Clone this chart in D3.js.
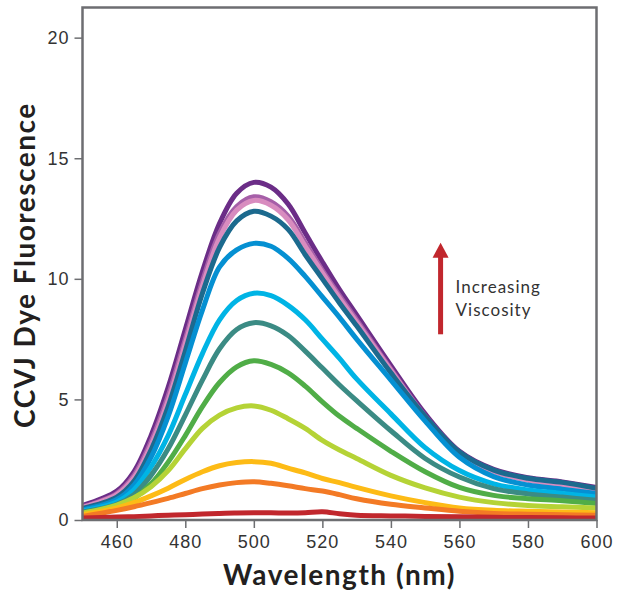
<!DOCTYPE html>
<html>
<head>
<meta charset="utf-8">
<script src="https://cdn.jsdelivr.net/npm/d3@7"></script>
<style>
  body { margin: 0; background: #fff; }
  svg { display: block; font-family: Lato, "Noto Sans", sans-serif; }
</style>
</head>
<body>
<svg width="617" height="595"></svg>
<script>
// wavelengths (nm), shared by every series
const wavelengths = [450, 460, 465, 470, 475, 480, 485, 490, 495, 500, 505, 510, 515, 520, 525, 530, 540, 550, 560, 570, 580, 590, 600];

// fluorescence per viscosity step, highest first
const purple = [0.6, 1.2, 2.0, 3.5, 5.5, 7.9, 10.3, 12.3, 13.55, 14.0, 13.8, 13.1, 11.9, 10.7, 9.55, 8.5, 6.4, 4.4, 2.85, 2.1, 1.75, 1.58, 1.35];
const mauve = [0.55, 1.1, 1.85, 3.25, 5.15, 7.5, 9.9, 11.9, 13.0, 13.4, 13.2, 12.6, 11.5, 10.35, 9.3, 8.3, 6.25, 4.3, 2.8, 2.05, 1.7, 1.52, 1.28];
const pink = [0.52, 1.05, 1.75, 3.1, 4.95, 7.3, 9.7, 11.7, 12.85, 13.25, 13.05, 12.45, 11.35, 10.25, 9.2, 8.2, 6.2, 4.25, 2.75, 2.0, 1.65, 1.45, 1.24];
const darkBlue = [0.48, 0.95, 1.6, 2.9, 4.7, 7.0, 9.4, 11.3, 12.4, 12.8, 12.6, 12.05, 11.0, 10.0, 9.0, 8.05, 6.1, 4.3, 2.82, 2.07, 1.73, 1.56, 1.31];
const blue = [0.42, 0.85, 1.45, 2.6, 4.3, 6.5, 8.7, 10.5, 11.2, 11.47, 11.35, 10.85, 10.1, 9.25, 8.4, 7.5, 5.8, 4.1, 2.6, 1.8, 1.45, 1.28, 1.1];
const cyan = [0.38, 0.75, 1.25, 2.2, 3.5, 5.2, 6.9, 8.3, 9.1, 9.4, 9.3, 8.9, 8.3, 7.5, 6.7, 5.85, 4.4, 3.0, 2.05, 1.5, 1.25, 1.1, 0.95];
const teal = [0.33, 0.65, 1.05, 1.85, 2.95, 4.35, 5.8, 7.1, 7.9, 8.18, 8.05, 7.65, 7.0, 6.3, 5.6, 4.95, 3.7, 2.55, 1.78, 1.3, 1.08, 0.95, 0.82];
const green = [0.3, 0.55, 0.9, 1.5, 2.4, 3.5, 4.7, 5.7, 6.35, 6.6, 6.45, 6.1, 5.55, 4.9, 4.3, 3.8, 2.85, 2.0, 1.35, 1.02, 0.88, 0.8, 0.68];
const yellowGreen = [0.28, 0.62, 0.92, 1.38, 2.05, 2.95, 3.8, 4.35, 4.65, 4.73, 4.55, 4.2, 3.8, 3.3, 2.9, 2.55, 1.85, 1.33, 0.95, 0.72, 0.6, 0.55, 0.5];
const amber = [0.22, 0.5, 0.72, 1.0, 1.32, 1.68, 2.0, 2.25, 2.38, 2.42, 2.35, 2.15, 1.95, 1.72, 1.55, 1.35, 1.0, 0.72, 0.5, 0.4, 0.36, 0.33, 0.3];
const orange = [0.15, 0.4, 0.55, 0.72, 0.9, 1.1, 1.3, 1.45, 1.55, 1.59, 1.52, 1.42, 1.3, 1.2, 1.05, 0.88, 0.65, 0.5, 0.36, 0.27, 0.24, 0.22, 0.2];
const red = [0.08, 0.12, 0.14, 0.17, 0.2, 0.22, 0.25, 0.27, 0.29, 0.3, 0.3, 0.29, 0.3, 0.34, 0.26, 0.2, 0.17, 0.15, 0.13, 0.11, 0.1, 0.09, 0.08];

const seriesColors = ["#6b2d87", "#a65fa8", "#d88cbf", "#1c6a8e", "#0590d2", "#00b4e5", "#3b8b84", "#50ad47", "#b5d336", "#fdbb16", "#f37a25", "#c1272d"];
const seriesValues = [purple, mauve, pink, darkBlue, blue, cyan, teal, green, yellowGreen, amber, orange, red];

const xTicks = [460, 480, 500, 520, 540, 560, 580, 600];
const yTicks = [0, 5, 10, 15, 20];

const svg = d3.select("svg");
const width = +svg.attr("width");
const height = +svg.attr("height");

const margin = { top: 7.5, right: 20.5, bottom: 75, left: 82.5 };
const innerWidth = width - margin.left - margin.right;
const innerHeight = height - margin.top - margin.bottom;

const xScale = d3.scaleLinear().domain([450, 600]).range([0, innerWidth]);
const yScale = d3.scaleLinear().domain([0, 21.25]).range([innerHeight, 0]);

const g = svg.append("g")
  .attr("transform", `translate(${margin.left},${margin.top})`);

g.append("clipPath").attr("id", "plot-clip")
  .append("rect").attr("width", innerWidth).attr("height", innerHeight);

// curves
const line = d3.line()
  .x((d) => xScale(d[0]))
  .y((d) => yScale(d[1]))
  .curve(d3.curveCatmullRom.alpha(0.5));

g.append("g")
  .attr("clip-path", "url(#plot-clip)")
  .selectAll("path")
  .data(seriesValues)
  .enter()
  .append("path")
  .attr("d", (vals) => line(wavelengths.map((w, i) => [w, vals[i]])))
  .attr("fill", "none")
  .attr("stroke", (d, i) => seriesColors[i])
  .attr("stroke-width", 5)
  .attr("stroke-linejoin", "round")
  .attr("stroke-linecap", "round");

// axes
const axisColor = "#6d6e71";
const styleAxis = (sel) => {
  sel.select(".domain").remove();
  sel.selectAll(".tick line").attr("stroke", axisColor).attr("stroke-width", 1.5);
  sel.selectAll(".tick text")
    .attr("fill", "#333")
    .style("font-size", "18px")
    .style("letter-spacing", "1px");
};

g.append("g")
  .call(d3.axisLeft(yScale).tickValues(yTicks).tickSize(8).tickPadding(5))
  .call(styleAxis);

g.append("g")
  .attr("transform", `translate(0,${innerHeight})`)
  .call(d3.axisBottom(xScale).tickValues(xTicks).tickSize(8).tickPadding(7))
  .call(styleAxis);

// frame
g.append("rect")
  .attr("width", innerWidth)
  .attr("height", innerHeight)
  .attr("fill", "none")
  .attr("stroke", axisColor)
  .attr("stroke-width", 2.5);

// axis titles
g.append("text")
  .text("Wavelength (nm)")
  .attr("x", innerWidth / 2)
  .attr("y", innerHeight + 65)
  .attr("text-anchor", "middle")
  .attr("fill", "#231f20")
  .style("font-size", "28px")
  .style("font-weight", "bold")
  .style("letter-spacing", "1.5px");

g.append("text")
  .text("CCVJ Dye Fluorescence")
  .attr("transform", `translate(${-48},${yScale(10.57)}) rotate(-90)`)
  .attr("text-anchor", "middle")
  .attr("fill", "#231f20")
  .style("font-size", "28px")
  .style("font-weight", "bold")
  .style("letter-spacing", "1.5px");

// increasing viscosity arrow
const arrowX = xScale(554.5);
const arrowBottom = yScale(7.7);
const arrowTip = yScale(11.5);
g.append("line")
  .attr("x1", arrowX).attr("x2", arrowX)
  .attr("y1", arrowBottom).attr("y2", arrowTip + 12)
  .attr("stroke", "#c1272d")
  .attr("stroke-width", 5);
g.append("path")
  .attr("d", `M${arrowX},${arrowTip} L${arrowX + 8},${arrowTip + 15} L${arrowX - 8},${arrowTip + 15} Z`)
  .attr("fill", "#c1272d");

const note = g.append("text")
  .attr("fill", "#333")
  .style("font-size", "17px")
  .style("letter-spacing", "1px");
note.append("tspan").text("Increasing").attr("x", arrowX + 15).attr("y", yScale(9.42));
note.append("tspan").text("Viscosity").attr("x", arrowX + 15).attr("y", yScale(8.47));
</script>
</body>
</html>
